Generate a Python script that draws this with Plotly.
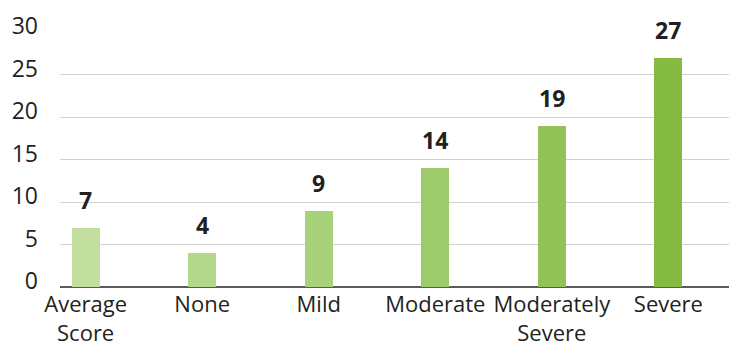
import plotly.graph_objects as go

# Scores by depression severity group
categories = ["Average<br>Score", "None", "Mild", "Moderate", "Moderately<br>Severe", "Severe"]
scores = [7, 4, 9, 14, 19, 27]
bar_colors = ["#c3dfa0", "#b4d88b", "#a8d17b", "#9dca6a", "#90c257", "#85bb43"]
y_ticks = [0, 5, 10, 15, 20, 25, 30]

TEXT = "#231f20"
FONT = "Open Sans"

fig = go.Figure()
fig.add_trace(go.Bar(
    x=list(range(len(categories))),
    y=scores,
    marker=dict(color=bar_colors, line=dict(width=0)),
    width=0.24,
    hoverinfo="skip",
))

# Bold value labels above each bar
for i, v in enumerate(scores):
    fig.add_annotation(
        x=i, y=v, text=f"<b>{v}</b>", showarrow=False,
        yanchor="bottom", yshift=10,
        font=dict(family=FONT, size=23, color=TEXT),
    )

fig.update_layout(
    width=729, height=347,
    margin=dict(l=60, r=0, t=32, b=60, autoexpand=False),
    paper_bgcolor="white", plot_bgcolor="white",
    showlegend=False,
    font=dict(family=FONT, size=23, color=TEXT),
    bargap=0,
)
fig.update_xaxes(
    tickmode="array", tickvals=list(range(len(categories))), ticktext=categories,
    range=[-0.22, 5.52], showgrid=False, zeroline=False, showline=False,
    ticks="", tickfont=dict(family=FONT, size=22, color=TEXT),
    ticklabelstandoff=2, automargin=False,
)
fig.update_yaxes(
    range=[0, 30], tickvals=y_ticks, showgrid=True, gridcolor="#d2d2d2", gridwidth=1,
    zeroline=True, zerolinecolor="#5a5a5a", zerolinewidth=2, showline=False,
    ticks="", tickfont=dict(family=FONT, size=23, color=TEXT),
    ticklabelshift=-6, ticklabelstandoff=21, automargin=False,
)

fig.write_html("out.html")
